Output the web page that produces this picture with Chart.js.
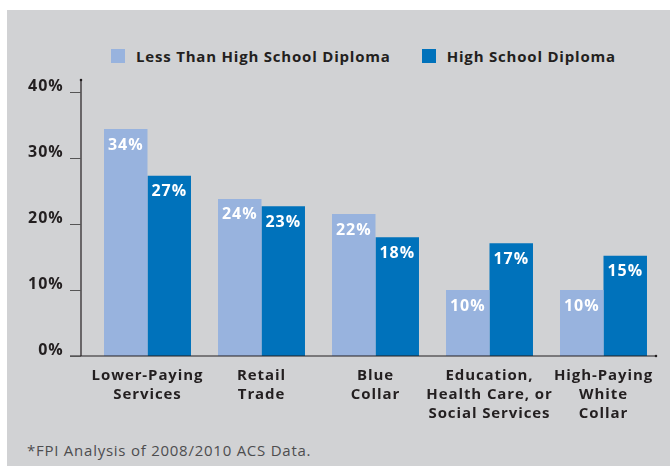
<!DOCTYPE html>
<html>
<head>
<meta charset="utf-8">
<script src="https://cdn.jsdelivr.net/npm/chart.js@4"></script>
<style>
  body { margin: 0; background: #fff; width: 670px; height: 466px; position: relative; overflow: hidden; font-family: "Open Sans", sans-serif; }
  .panel { position: absolute; left: 7px; top: 10px; right: 0; bottom: 0; background: #d1d2d4; }
  .legend { position: absolute; top: 46px; left: 111px; display: flex; align-items: center; font-weight: bold; font-size: 15px; letter-spacing: 0.8px; color: #231f20; }
  .legend span.box { display: inline-block; width: 14px; height: 14px; margin-right: 11px; }
  .legend .item { display: flex; align-items: center; margin-right: 31px; }
  .note { position: absolute; left: 27px; top: 440px; font-size: 15px; letter-spacing: 0.75px; color: #4d4d4f; }
  canvas { position: absolute; left: 0; top: 0; }
</style>
</head>
<body>
<div class="panel"></div>
<div class="legend" id="legend"></div>
<div class="note">*FPI Analysis of 2008/2010 ACS Data.</div>
<canvas id="chart" width="670" height="466"></canvas>
<script>
const categories = [
  ['Lower-Paying', 'Services'],
  ['Retail', 'Trade'],
  ['Blue', 'Collar'],
  ['Education,', 'Health Care, or', 'Social Services'],
  ['High-Paying', 'White', 'Collar']
];
const seriesNames = ['Less Than High School Diploma', 'High School Diploma'];
const lessThanHS = [34.4, 23.8, 21.5, 10.0, 10.0];
const highSchool = [27.3, 22.7, 18.0, 17.1, 15.2];
const yTicks = [0, 10, 20, 30, 40];
const colors = ['#98b3de', '#0072bb'];

// html legend
const legendEl = document.getElementById('legend');
seriesNames.forEach((name, i) => {
  const item = document.createElement('div');
  item.className = 'item';
  item.innerHTML = '<span class="box" style="background:' + colors[i] + '"></span>' + name;
  legendEl.appendChild(item);
});

const ink = '#231f20';

// wider letters, closer to the original typeface
const spacing = {
  id: 'spacing',
  beforeDraw(chart) { chart.ctx.letterSpacing = '0.9px'; }
};

const axisLines = {
  id: 'axisLines',
  afterDatasetsDraw(chart) {
    const ctx = chart.ctx;
    const y = chart.scales.y;
    const axisX = 81;
    const y0 = y.getPixelForValue(0);
    const yTop = y.getPixelForValue(40) - 12;
    ctx.save();
    ctx.strokeStyle = ink;
    ctx.lineWidth = 1.2;
    ctx.beginPath();
    ctx.moveTo(axisX, y0);
    ctx.lineTo(axisX, yTop);
    ctx.moveTo(70, y0);
    ctx.lineTo(656, y0);
    ctx.stroke();
    ctx.strokeStyle = '#555';
    ctx.lineWidth = 1;
    yTicks.forEach(v => {
      const py = Math.round(y.getPixelForValue(v)) + 0.5;
      ctx.beginPath();
      ctx.moveTo(70, py);
      ctx.lineTo(axisX, py);
      ctx.stroke();
    });
    ctx.fillStyle = ink;
    ctx.beginPath();
    ctx.arc(axisX, yTop, 1.3, 0, Math.PI * 2);
    ctx.arc(656, y0, 1.3, 0, Math.PI * 2);
    ctx.fill();
    ctx.restore();
  }
};

const valueLabels = {
  id: 'valueLabels',
  afterDatasetsDraw(chart) {
    const ctx = chart.ctx;
    ctx.save();
    ctx.fillStyle = '#fff';
    ctx.font = 'bold 16px "Open Sans"';
    ctx.textAlign = 'center';
    ctx.textBaseline = 'middle';
    chart.data.datasets.forEach((ds, di) => {
      chart.getDatasetMeta(di).data.forEach((bar, i) => {
        ctx.fillText(Math.round(ds.data[i]) + '%', bar.x, bar.y + 16);
      });
    });
    ctx.restore();
  }
};

new Chart(document.getElementById('chart'), {
  type: 'bar',
  data: {
    labels: categories,
    datasets: [
      { label: seriesNames[0], data: lessThanHS, backgroundColor: colors[0] },
      { label: seriesNames[1], data: highSchool, backgroundColor: colors[1] }
    ]
  },
  options: {
    responsive: false,
    animation: false,
    layout: { padding: { top: 92, right: 9.5, bottom: 0, left: 0 } },
    datasets: { bar: { barPercentage: 1, categoryPercentage: 0.763 } },
    plugins: {
      legend: { display: false },
      tooltip: { enabled: false }
    },
    scales: {
      x: {
        grid: { display: false, drawTicks: false },
        border: { display: false },
        ticks: {
          color: ink,
          padding: 10,
          font: { family: 'Open Sans', weight: 'bold', size: 15, lineHeight: 1.27 },
          maxRotation: 0,
          autoSkip: false
        },
        afterFit(scale) { scale.height = 110; }
      },
      y: {
        min: 0,
        max: 40,
        grid: { display: false, drawTicks: false },
        border: { display: false },
        afterFit(scale) { scale.width = 90.5; },
        afterBuildTicks(scale) { scale.ticks = yTicks.map(v => ({ value: v })); },
        ticks: {
          color: ink,
          padding: 27,
          labelOffset: -6,
          font: { family: 'Open Sans', weight: 'bold', size: 16 },
          callback: v => v + '%'
        }
      }
    }
  },
  plugins: [spacing, axisLines, valueLabels]
});
</script>
</body>
</html>
